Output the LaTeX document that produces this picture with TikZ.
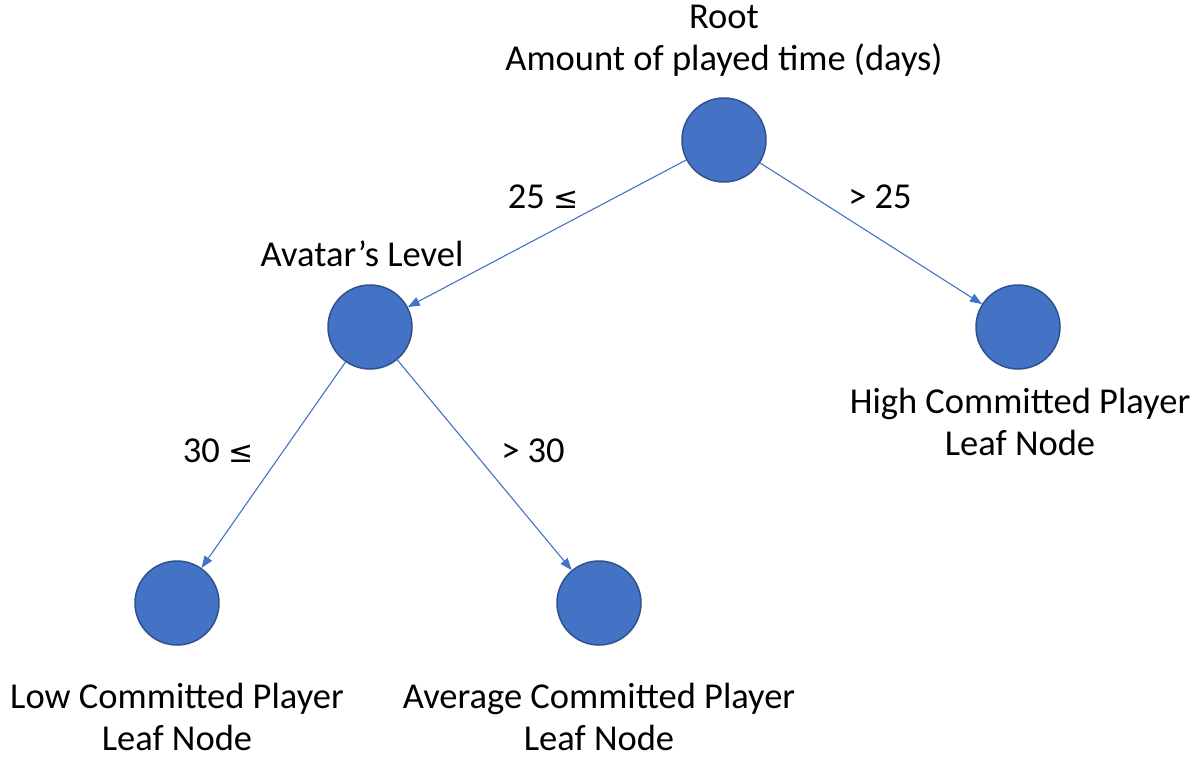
\documentclass[tikz,border=0pt]{standalone}
\usepackage{fontspec}
\setmainfont{Carlito}
\newfontfamily\symfont{DejaVu Sans}
\usetikzlibrary{arrows.meta}
\definecolor{nodefill}{HTML}{4472C4}
\definecolor{nodeedge}{HTML}{2F528F}
\newcommand{\lesseq}{{\symfont\fontsize{30}{36}\selectfont ≤}}
\tikzset{
  treenode/.style={circle, minimum size=84pt, inner sep=0pt, fill=nodefill, draw=nodeedge, line width=1.5pt},
  branch/.style={draw=nodefill, line width=1.1pt, -{Triangle[length=12pt,width=9pt]}},
  caption/.style={font=\fontsize{36.5}{42}\selectfont, text=black, inner sep=0pt, align=center},
}
\begin{document}
\begin{tikzpicture}[x=1pt,y=-1pt]
\useasboundingbox (0,0) rectangle (1204,758);
% tree nodes
\node[treenode] (root) at (724,140) {};
\node[treenode] (avatar) at (370,327) {};
\node[treenode] (high) at (1018,327) {};
\node[treenode] (low) at (177,603) {};
\node[treenode] (avg) at (599,603) {};
% branches
\draw[branch] (root) -- (avatar);
\draw[branch] (root) -- (high);
\draw[branch] (avatar) -- (low);
\draw[branch] (avatar) -- (avg);
% node captions
\node[caption] (rootlbl) at (724,41) {Root\\Amount of played time (days)};
\node[caption] (avatarlbl) at (362,254) {Avatar’s Level};
\node[caption] (highlbl) at (1020,422) {High Committed Player\\Leaf Node};
\node[caption] (lowlbl) at (177,717) {Low Committed Player\\Leaf Node};
\node[caption] (avglbl) at (599,717) {Average Committed Player\\Leaf Node};
% branch conditions
\node[caption] (c1) at (543,197) {25 \lesseq};
\node[caption] (c2) at (880,197) {> 25};
\node[caption] (c3) at (218,451) {30 \lesseq};
\node[caption] (c4) at (533,451) {> 30};
\end{tikzpicture}
\end{document}
